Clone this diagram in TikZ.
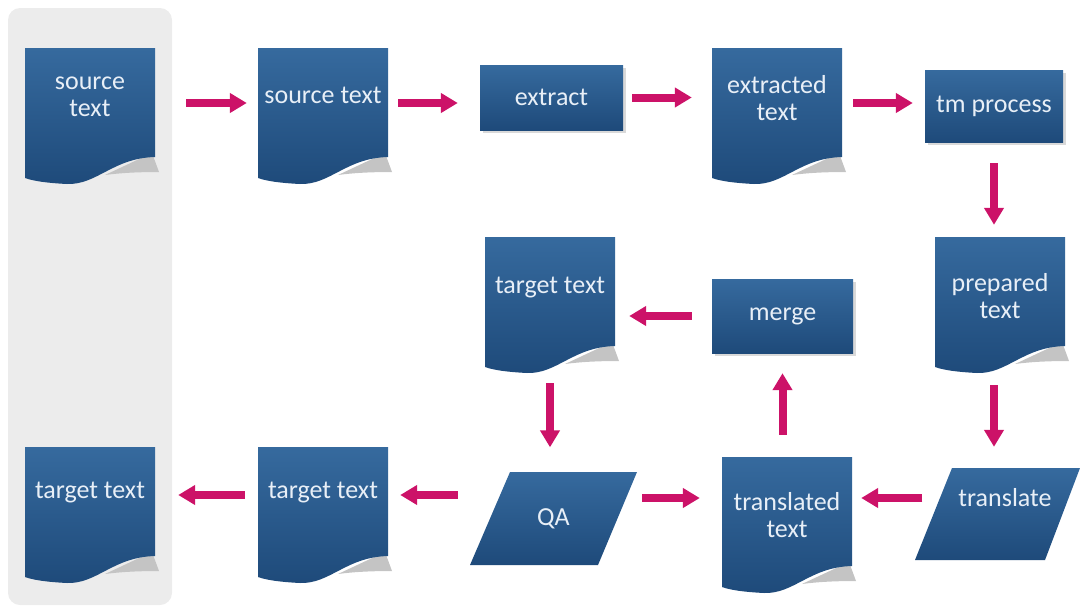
\documentclass[tikz,border=0pt]{standalone}
\usepackage{fontspec}
\setmainfont{Carlito}
\usetikzlibrary{arrows.meta,shadows,calc}

\definecolor{boxtop}{RGB}{54,106,158}
\definecolor{boxbot}{RGB}{30,74,122}
\definecolor{flowcol}{RGB}{204,18,104}
\definecolor{panel}{RGB}{236,236,236}
\definecolor{curl}{RGB}{196,196,196}
\definecolor{lbl}{RGB}{232,239,247}

\tikzset{
  docbox/.style={inner sep=0pt, minimum width=130pt, minimum height=110pt},
  lbl/.style={text=lbl, font=\fontsize{26}{27}\selectfont, align=center, inner sep=0pt},
  bluefill/.style={top color=boxtop, bottom color=boxbot},
  procbox/.style={bluefill, lbl, inner sep=0pt,
    drop shadow={shadow xshift=3pt, shadow yshift=-3pt, opacity=.3, fill=gray}},
  ghost/.style={inner sep=0pt},
  flow/.style={draw=flowcol, color=flowcol, line width=8pt,
    -{Triangle[length=17pt,width=19pt]}},
}

% document page: name, left x, top y, label y, label
\newcommand\docpage[5]{%
  \fill[curl] (#2+127,#3+105) -- (#2+134,#3+124)
    .. controls (#2+112,#3+124) and (#2+95,#3+125) .. (#2+80,#3+127) -- cycle;
  \shade[bluefill] (#2,#3) -- (#2+130,#3) -- (#2+130,#3+109)
    .. controls (#2+88,#3+110) and (#2+72,#3+137) .. (#2+42,#3+136)
    .. controls (#2+22,#3+135) and (#2+8,#3+133) .. (#2,#3+130) -- cycle;
  \node[docbox] (#1) at (#2+65,#3+55) {};
  \node[lbl] (#1-t) at (#2+65,#4) {#5};
}

\begin{document}
\begin{tikzpicture}[x=1pt, y=-1pt]
\useasboundingbox (0,0) rectangle (1081,613);

% grey column holding the source and the final target
\fill[panel, rounded corners=12pt] (8,8) rectangle (172,605);

% pages
\docpage{src0}{25}{48}{97}{source\\text}
\docpage{src1}{258}{48}{95}{source text}
\docpage{ext}{712}{48}{98}{extracted\\text}
\docpage{prep}{935}{237}{296}{prepared\\text}
\docpage{tgtm}{485}{237}{288}{target text}
\docpage{trans}{722}{457}{515}{translated\\text}
\docpage{tgtb}{258}{447}{493}{target text}
\docpage{tgt0}{25}{447}{493}{target text}

% processes
\node[procbox, minimum width=143pt, minimum height=65pt] (extract) at (551.5,97.5) {extract};
\node[procbox, minimum width=138pt, minimum height=72pt] (tm) at (994,106) {tm process};
\node[procbox, minimum width=141pt, minimum height=74pt] (merge) at (782.5,316) {merge};

% input / output steps
\shade[bluefill] (510,472) -- (637,472) -- (598,565) -- (470,565) -- cycle;
\node[ghost, lbl, minimum width=167pt, minimum height=93pt] (qa) at (553.5,519) {QA};
\shade[bluefill] (952,468) -- (1080,468) -- (1045,560) -- (915,560) -- cycle;
\node[ghost, minimum width=165pt, minimum height=92pt] (translate) at (997.5,514) {};
\node[lbl] (translate-t) at (1005,498) {translate};

% flow
\draw[flow, shorten <=31pt, shorten >=11pt] (src0.east) -- (src0.east -| src1.west);
\draw[flow, shorten <=10pt, shorten >=22pt] (src1.east) -- (src1.east -| extract.west);
\draw[flow, shorten <=9pt, shorten >=20pt] (extract.east) -- (extract.east -| ext.west);
\draw[flow, shorten <=11pt, shorten >=12pt] (ext.east) -- (ext.east -| tm.west);
\draw[flow, shorten <=21pt, shorten >=12pt] (tm.south) -- (tm.south |- prep.north);
\draw[flow, shorten <=38pt, shorten >=21pt] (tm.south |- prep.south) -- (tm.south |- translate.north);
\draw[flow, shorten <=36pt, shorten >=9pt] (translate-t.west) -- (translate-t.west -| trans.east);
\draw[flow, shorten <=5pt, shorten >=22pt] (translate-t.west -| qa.east) -- (translate-t.west -| trans.west);
\draw[flow, shorten <=22pt, shorten >=20pt] (merge.south |- trans.north) -- (merge.south);
\draw[flow, shorten <=20pt, shorten >=14pt] (merge.west) -- (merge.west -| tgtm.east);
\draw[flow, shorten <=36pt, shorten >=25pt] (tgtm.south) -- (tgtm.south |- qa.north);
\draw[flow, shorten >=12pt] ([xshift=-12pt, yshift=24pt]qa.west) -- ([yshift=7pt]tgtb.east);
\draw[flow, shorten <=13pt, shorten >=23pt] ([yshift=7pt]tgtb.west) -- ([yshift=7pt]tgt0.east);
\end{tikzpicture}
\end{document}
